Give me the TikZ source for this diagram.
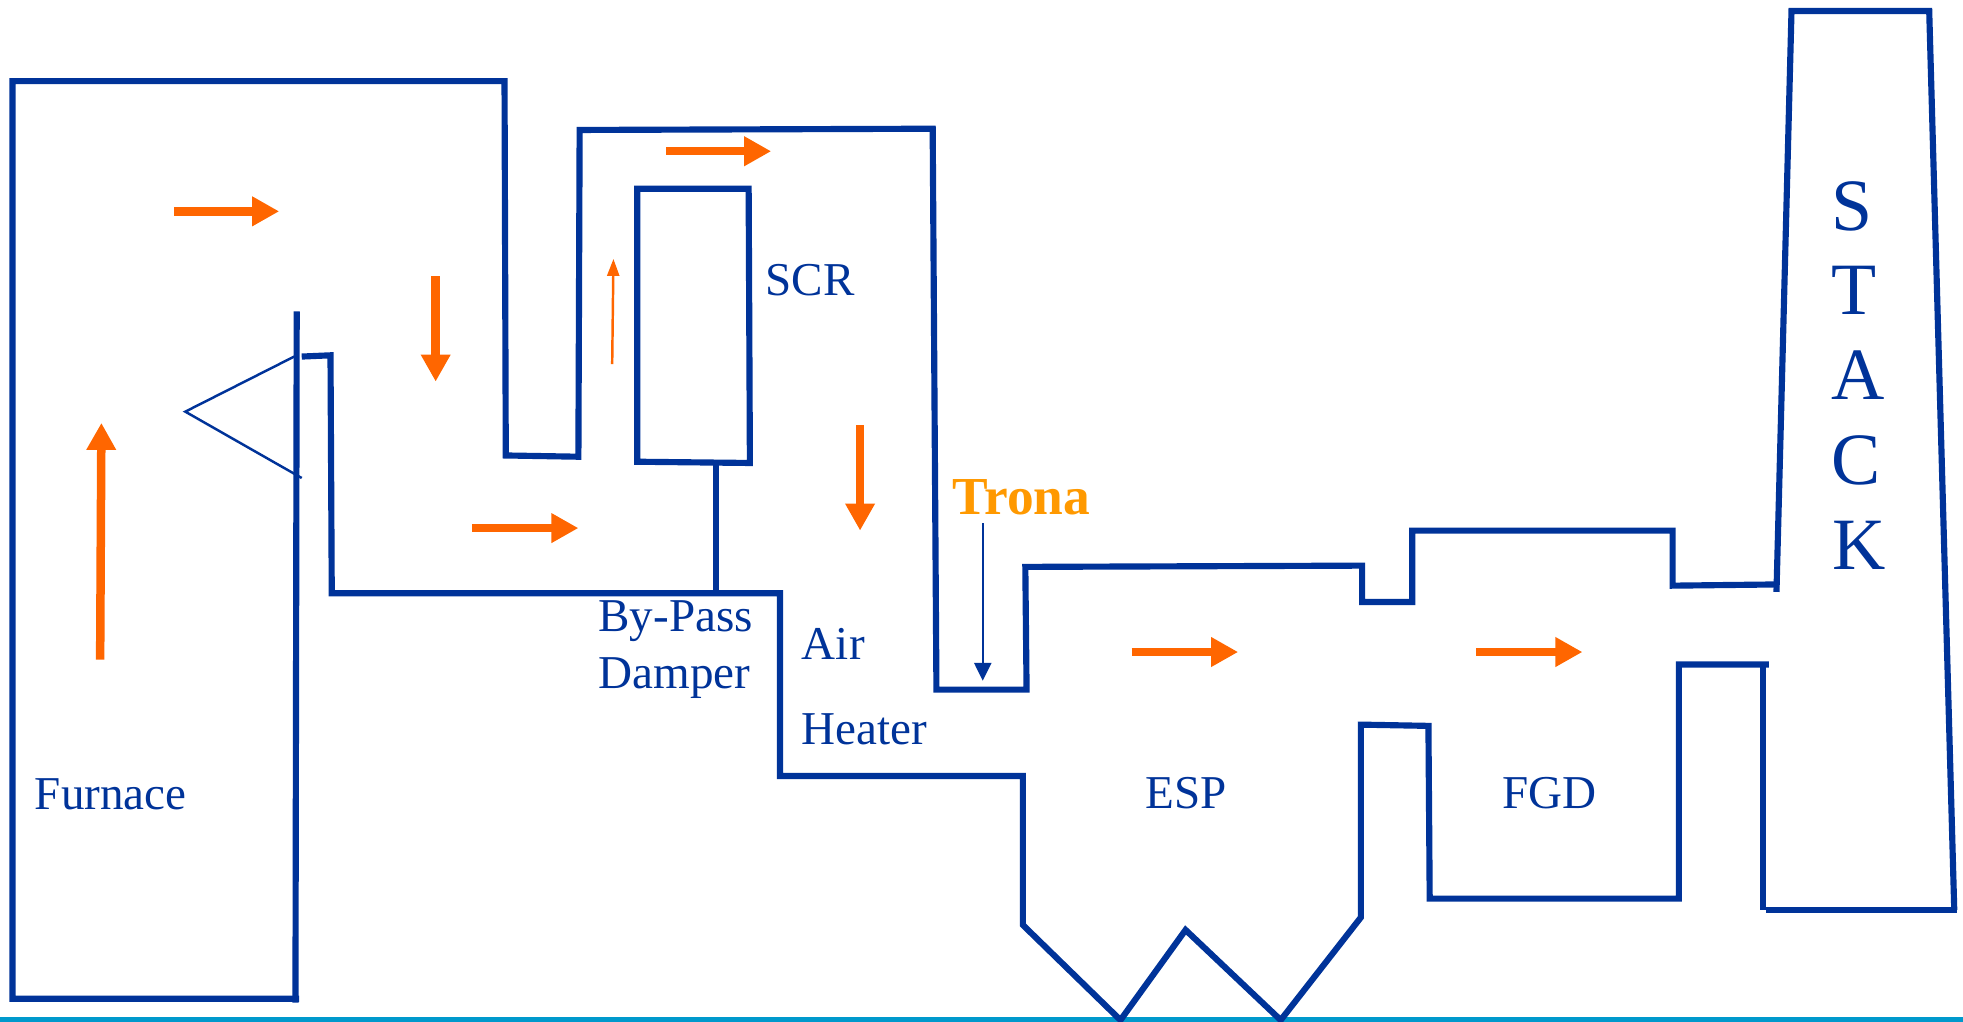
\documentclass[tikz,border=0pt]{standalone}
\usepackage{fontspec}
\setmainfont{Liberation Serif}
\usetikzlibrary{arrows.meta}
\definecolor{ductblue}{HTML}{003399}
\definecolor{floworange}{HTML}{FF6600}
\definecolor{tronaorange}{HTML}{FF9900}
\definecolor{floorblue}{HTML}{0099CC}
\begin{document}
\begin{tikzpicture}[x=0.1252mm, y=-0.1252mm,
	every node/.style={inner sep=0pt, text=ductblue, font=\fontsize{13.4}{16}\selectfont},
	duct/.style={draw=ductblue, line width=1.75pt, line join=miter},
	thinduct/.style={draw=ductblue, line width=0.7pt},
	flow/.style={draw=floworange, line width=0.085cm, -{Triangle[length=0.27cm, width=0.28cm]}},
	thinflow/.style={draw=floworange, line width=0.7pt, -{Triangle[length=0.17cm, width=0.12cm]}},
	trona/.style={draw=ductblue, line width=0.7pt, -{Triangle[length=0.18cm, width=0.17cm]}},
	stackletter/.style={font=\fontsize{21}{24}\selectfont}]
	\useasboundingbox (0,-0.8) rectangle (1568,815);

	\draw[draw=floorblue, line width=1.4pt] (0,813.5) -- (1568,813.5);

	\draw[duct] (239,797) -- (10,797) -- (10,64) -- (403,64) -- (404,363) -- (462,364) -- (463,103) -- (745,102) -- (748,550) -- (820,550) -- (819,452) -- (1088,451) -- (1088,480) -- (1128,480) -- (1128,423) -- (1336,423) -- (1336,467) -- (1421,466);
	\draw[duct] (1419,472) -- (1431,8) -- (1541,8) -- (1561,726);
	\draw[duct] (1563,726) -- (1411,726);
	\draw[duct] (1408,726) -- (1408,530);
	\draw[duct] (1413,530) -- (1341,530) -- (1341,717) -- (1142,717) -- (1141,579) -- (1087,578) -- (1087,732) -- (1023,814) -- (947,742) -- (895,814) -- (817,738) -- (817,619) -- (623,619) -- (623,473) -- (265,473) -- (264,283) -- (241,284);
	\draw[duct] (237,248) -- (236,800);
	\draw[thinduct] (235,284) -- (148,328) -- (241,381);
	\draw[duct] (509,150) -- (598,150) -- (599,369) -- (509,368) -- cycle;
	\draw[duct] (572,369) -- (572,473);

	\draw[flow] (80,526) -- (81,337);
	\draw[flow] (139,168) -- (223,168);
	\draw[flow] (348,220) -- (348,304);
	\draw[flow] (377,421) -- (462,421);
	\draw[flow] (532,120) -- (616,120);
	\draw[flow] (687,339) -- (687,423);
	\draw[flow] (904,520) -- (989,520);
	\draw[flow] (1179,520) -- (1264,520);
	\draw[thinflow] (489,290) -- (490,206);
	\draw[trona] (785,417) -- (785,543);

	\node (furnace) at (88.5,634) {Furnace};
	\node (scr) at (647,223) {SCR};
	\node[anchor=base west] (bypass) at (477.5,504) {By-Pass};
	\node[anchor=base west] (damper) at (477.5,549) {Damper};
	\node[anchor=base west] (air) at (640,526) {Air};
	\node[anchor=base west] (heater) at (640,594) {Heater};
	\node (esp) at (947.5,633) {ESP};
	\node (fgd) at (1238,633) {FGD};
	\node[text=tronaorange, font=\fontsize{15.2}{18}\selectfont\bfseries] (tronalabel) at (816,396) {Trona};
	\node[stackletter] (s) at (1479,164) {S};
	\node[stackletter] (t) at (1481,231) {T};
	\node[stackletter] (a) at (1484,299) {A};
	\node[stackletter] (c) at (1482.5,367) {C};
	\node[stackletter] (k) at (1485,435) {K};
\end{tikzpicture}
\end{document}
